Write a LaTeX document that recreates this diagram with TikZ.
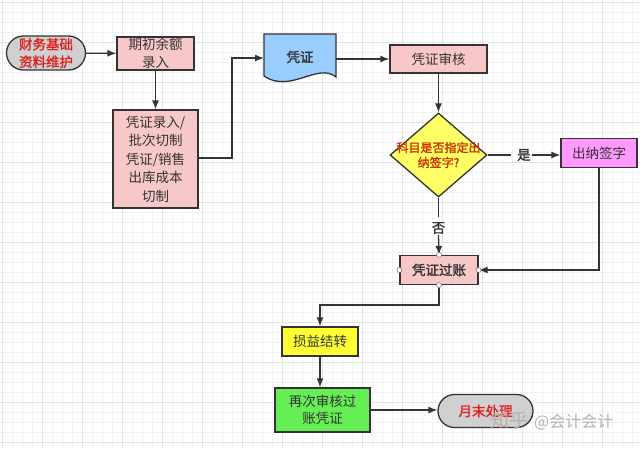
\documentclass[tikz,border=0pt]{standalone}
\usepackage{fontspec}
\setmainfont{Noto Sans CJK SC}
\newfontfamily\cjkb{Noto Sans CJK SC}[FakeBold=1.5]
\usetikzlibrary{arrows.meta,shapes.geometric,shapes.misc,positioning}
\definecolor{lineC}{HTML}{333333}
\definecolor{pinkF}{HTML}{F8C8C8}
\definecolor{grayF}{HTML}{D0D0D0}
\definecolor{blueF}{HTML}{99CCFF}
\definecolor{yelF}{HTML}{FFFF66}
\definecolor{yel2F}{HTML}{FFFF33}
\definecolor{violF}{HTML}{FF99FF}
\definecolor{greenF}{HTML}{66EE55}
\definecolor{redT}{HTML}{E02020}
\definecolor{dredT}{HTML}{CC3300}
\definecolor{txtC}{HTML}{333333}
\definecolor{gridMinor}{HTML}{F2F2F2}
\definecolor{gridMajor}{HTML}{E2E2E2}
\tikzset{
  box/.style={draw=lineC, line width=1.3pt, fill=pinkF, rectangle, inner sep=0pt, align=center, text=txtC, font=\fontsize{13.5}{17.5}\selectfont},
  pill/.style={draw=lineC, line width=1.3pt, fill=grayF, rounded rectangle, inner sep=0pt, align=center, text=redT, font=\cjkb\fontsize{13.5}{17.5}\selectfont},
  conn/.style={draw=lineC, line width=1.3pt, -{Latex[length=9pt,width=7pt]}},
  plain/.style={draw=lineC, line width=1.3pt},
  port/.style={circle, draw=gray, fill=white, line width=0.6pt, inner sep=0pt, minimum size=5pt},
  lbl/.style={fill=white, inner sep=1pt, text=txtC, font=\cjkb\fontsize{13.5}{16}\selectfont}
}
\begin{document}
\begin{tikzpicture}[x=1pt,y=-1pt]
\useasboundingbox (0,0) rectangle (640,448);
\fill[white] (0,0) rectangle (640,448);
\foreach \i in {2,12,...,642} {\draw[gridMinor, line width=0.5pt] (\i,0) -- (\i,448);}
\foreach \i in {2,12,...,448} {\draw[gridMinor, line width=0.5pt] (0,\i) -- (640,\i);}
\foreach \i in {2,42,...,642} {\draw[gridMajor, line width=0.5pt] (\i,0) -- (\i,448);}
\foreach \i in {2,42,...,448} {\draw[gridMajor, line width=0.5pt] (0,\i) -- (640,\i);}

% nodes
\node[pill, minimum width=79pt, minimum height=34pt] (cw) at (46,53) {财务基础\\资料维护};
\node[box, minimum width=77pt, minimum height=33pt] (qc) at (155.5,53.5) {期初余额\\录入};
\node[box, minimum width=85pt, minimum height=98pt, font=\fontsize{13.5}{18.5}\selectfont] (pz) at (155.5,159) {凭证录入/\\批次切制\\凭证/销售\\出库成本\\切制};
% document shape
\draw[draw=lineC, line width=1.3pt, fill=blueF] (264,34) -- (336,34) -- (336,77) .. controls (318,62) and (290,94) .. (264,76) -- cycle;
\node[text=txtC, font=\cjkb\fontsize{13.5}{16}\selectfont] (doc) at (300,57) {凭证};
\coordinate (docL) at (264,58);
\coordinate (docR) at (336,59);
\node[box, minimum width=97pt, minimum height=28pt] (sh) at (438.5,59) {凭证审核};
\node[diamond, draw=lineC, line width=1.3pt, fill=yelF, minimum width=97pt, minimum height=84pt, inner sep=0pt, aspect=1.15] (dm) at (438.5,155) {};
\node[text=dredT, align=center, font=\cjkb\fontsize{12}{15}\selectfont] at (438.5,155) {科目是否指定出\\纳签字?};
\node[box, fill=violF, minimum width=76pt, minimum height=29pt] (cn) at (599,153) {出纳签字};
\node[box, minimum width=78pt, minimum height=29pt, font=\cjkb\fontsize{13.5}{16}\selectfont] (gz) at (439,270) {凭证过账};
\node[box, fill=yel2F, minimum width=76pt, minimum height=29pt] (sy) at (320,341.5) {损益结转};
\node[box, fill=greenF, minimum width=95pt, minimum height=44pt] (zc) at (322.5,410) {再次审核过\\账凭证};
\node[pill, minimum width=95pt, minimum height=33pt] (ym) at (485.5,411) {月末处理};

% connectors
\draw[conn] (cw) -- (qc);
\draw[conn] (qc) -- (pz);
\draw[conn] (pz.east |- 0,158) -| (232,58) -- (docL);
\draw[conn] (docR) -- (sh.west |- docR);
\draw[conn] (sh) -- (dm);
\draw[plain] (dm.east) -- (511,155);
\node[lbl] (shi) at (524,155) {是};
\draw[conn] (shi.east) -- (cn.west |- shi.east);
\draw[plain] (dm.south) -- (438.5,217);
\node[lbl] (fou) at (438.5,228) {否};
\draw[conn] (fou.south) -- (gz.north);
\draw[conn] (cn.south) |- (gz.east);
\draw[conn] (gz.south) -- (439,305) -| (sy.north);
\draw[conn] (sy.south) -- (sy.south |- zc.north);
\draw[conn] (zc.east) -- (ym.west |- zc.east);

% ports
\foreach \a in {north,south,east,west} {\node[port] at (gz.\a) {};}

% watermark
\node[text=black!30, anchor=west, inner sep=0pt] (wm) at (490,421) {{\fontsize{19}{20}\selectfont 知乎}\hspace{6pt}{\fontsize{16}{18}\selectfont @会计会计}};
\end{tikzpicture}
\end{document}
